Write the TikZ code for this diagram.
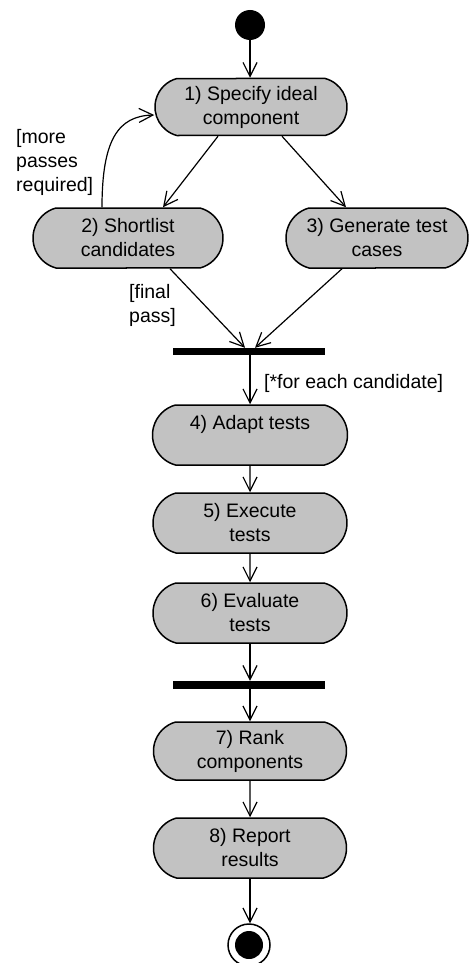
\documentclass[tikz,border=0pt]{standalone}
\usepackage{fontspec}
\setmainfont{Liberation Sans}
\usetikzlibrary{shapes.misc,arrows.meta}
\begin{document}
\begin{tikzpicture}[x=1pt,y=-1pt,
  font=\fontsize{19.5}{24}\selectfont,
  act/.style={rounded rectangle, rounded rectangle arc length=150, draw=black, line width=1.5pt,
    fill=black!24, inner sep=0pt, align=center, minimum height=60pt, minimum width=194pt},
  bar/.style={rectangle, fill=black, inner sep=0pt, minimum width=152pt},
  flow/.style={line width=1.2pt, -{Straight Barb[length=14pt,width=14pt]}},
  lbl/.style={inner sep=0pt, align=left, anchor=north west}]
\path[use as bounding box] (0,0) rectangle (470,963);
\node[circle, fill=black, minimum size=30pt, inner sep=0pt] (start) at (250,25) {};
\node[act, minimum width=192pt, minimum height=57pt] (n1) at (251,107) {1) Specify ideal\\component};
\node[act, minimum width=190pt] (n2) at (128,238) {2) Shortlist\\candidates};
\node[act, minimum width=182pt] (n3) at (377,238) {3) Generate test\\cases};
\node[bar, minimum height=7pt] (bar1) at (249,351.5) {};
\node[act, minimum width=195pt] (n4) at (250,435) {4) Adapt tests\\\phantom{tests}};
\node[act] (n5) at (250,523) {5) Execute\\tests};
\node[act] (n6) at (250,613) {6) Evaluate\\tests};
\node[bar, minimum height=8pt] (bar2) at (249,685) {};
\node[act, minimum width=193pt, minimum height=58pt] (n7) at (250,751) {7) Rank\\components};
\node[act, minimum width=193pt] (n8) at (250,848) {8) Report\\results};
\node[circle, draw=black, line width=1.5pt, fill=white, minimum size=42pt, inner sep=0pt] (end) at (249,945) {};
\node[circle, fill=black, minimum size=28pt, inner sep=0pt] at (end.center) {};
% labels
\node[lbl] (lmore) at (16,129) {[more\\passes\\required]};
\node[lbl] (lfinal) at (129,284) {[final\\pass]};
\node[inner sep=0pt, anchor=west] (leach) at (264,383) {[*for each candidate]};
% connectors
\draw[flow] (start) -- (n1.north -| start);
\draw[flow] ([xshift=-33pt]n1.south) -- ([xshift=35pt]n2.north);
\draw[flow] ([xshift=31pt]n1.south) -- ([xshift=-31pt]n3.north);
\draw[flow] ([xshift=-26pt]n2.north) .. controls (102,140) and (118,116) .. ([yshift=-8pt]n1.west);
\draw[flow] ([xshift=42pt]n2.south) -- ([xshift=-4pt]bar1.north);
\draw[flow] ([xshift=-35pt]n3.south) -- ([xshift=6pt]bar1.north);
\draw[flow] (bar1.south -| n4) -- (n4.north);
\draw[flow] (n4) -- (n5);
\draw[flow] (n5) -- (n6);
\draw[flow] (n6.south) -- (bar2.north -| n6);
\draw[flow] (bar2.south -| n7) -- (n7.north);
\draw[flow] (n7) -- (n8);
\draw[flow] (n8.south) -- (end.north -| n8);
\end{tikzpicture}
\end{document}
